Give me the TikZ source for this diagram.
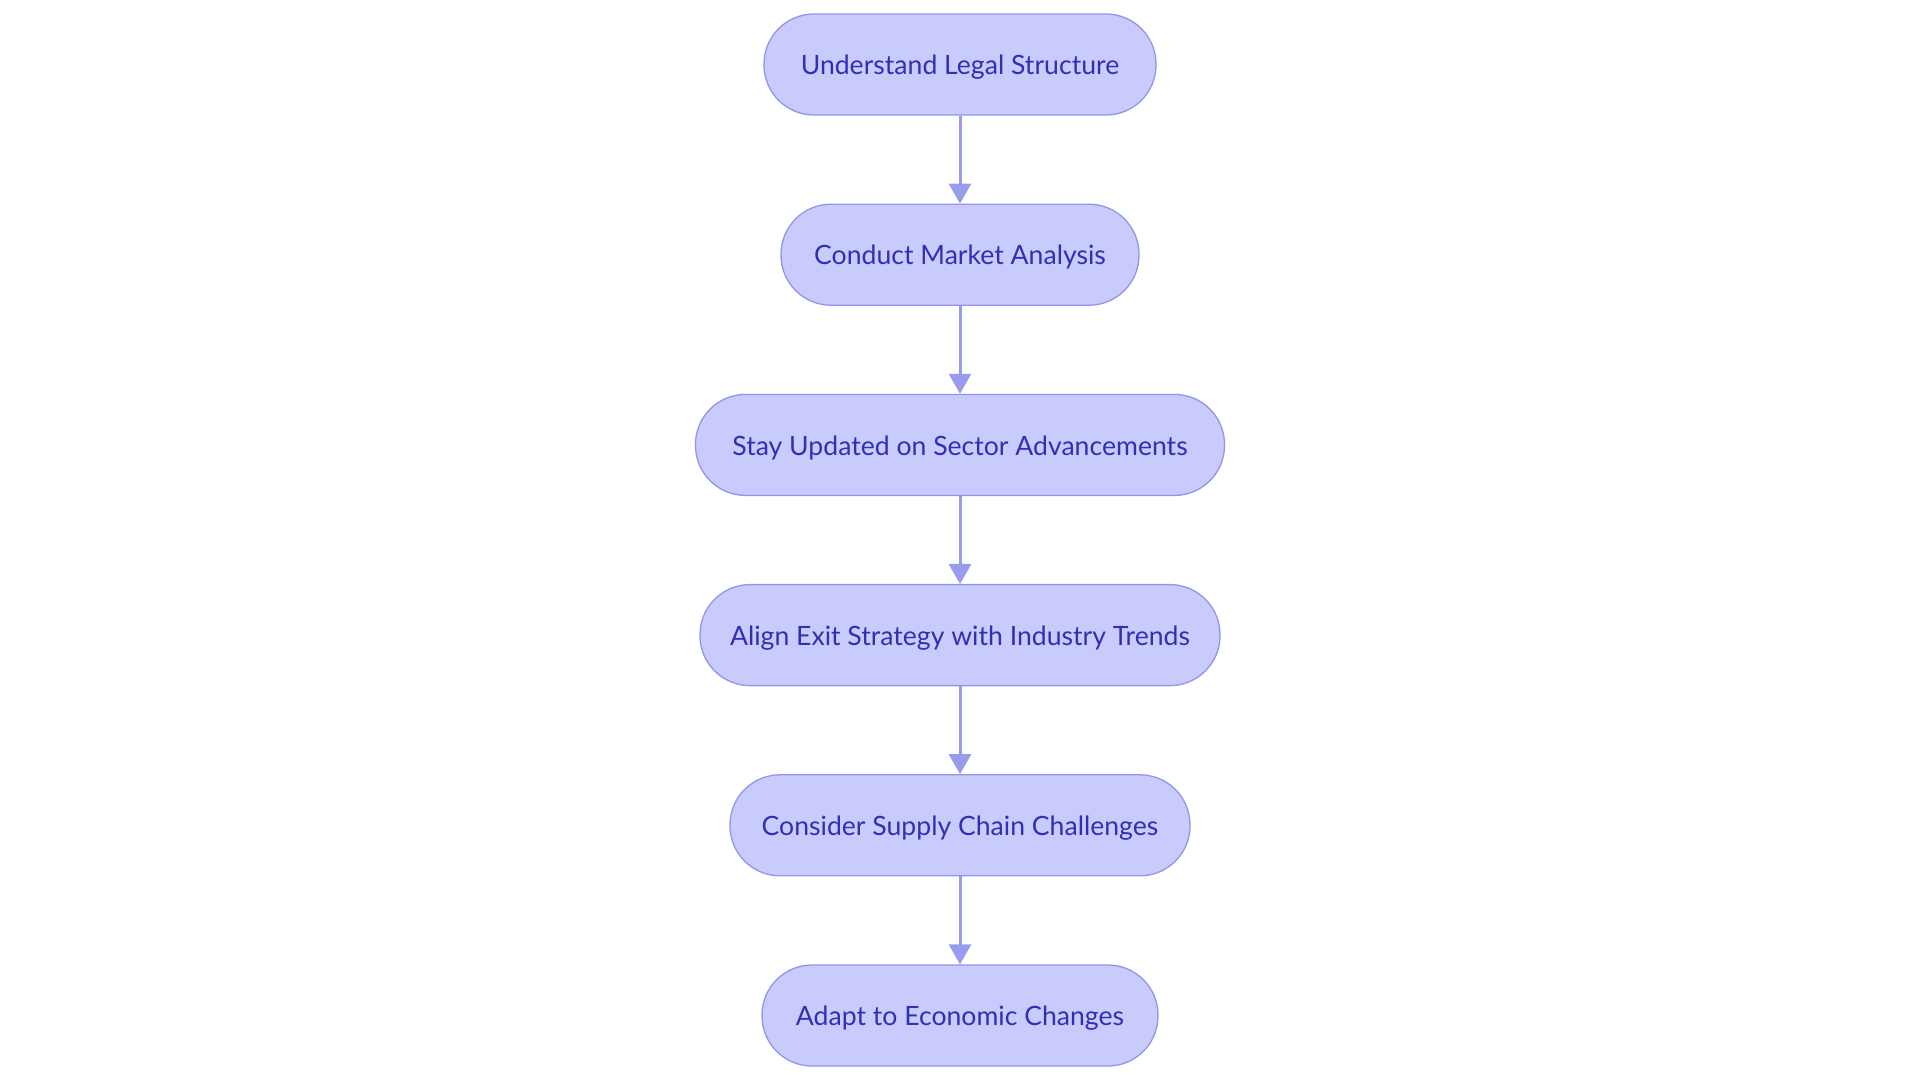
\documentclass[tikz,border=0pt]{standalone}
\usepackage{fontspec}
\setmainfont{Lato}
\usetikzlibrary{arrows.meta}
\definecolor{boxfill}{RGB}{201,203,252}
\definecolor{boxdraw}{RGB}{147,150,230}
\definecolor{boxtext}{RGB}{48,48,180}
\definecolor{arrowcol}{RGB}{152,156,236}
\tikzset{
  stepbox/.style={draw=boxdraw, fill=boxfill, line width=1.3pt, rounded corners=50pt,
    minimum height=101pt, inner sep=0pt, text height=20.5pt, text depth=0pt,
    text=boxtext, font=\fontsize{26.6pt}{30pt}\selectfont},
  flow/.style={draw=arrowcol, line width=3pt, -{Triangle[length=20pt,width=22pt]}}
}
\begin{document}
\begin{tikzpicture}[x=1pt,y=1pt]
\useasboundingbox[fill=white] (0,0) rectangle (1920,-1080);
\node[stepbox, minimum width=392pt] (n1) at (960,-64.5) {Understand Legal Structure};
\node[stepbox, minimum width=358pt] (n2) at (960,-254.7) {Conduct Market Analysis};
\node[stepbox, minimum width=529pt] (n3) at (960,-444.9) {Stay Updated on Sector Advancements};
\node[stepbox, minimum width=520pt] (n4) at (960,-635.1) {Align Exit Strategy with Industry Trends};
\node[stepbox, minimum width=460pt] (n5) at (960,-825.3) {Consider Supply Chain Challenges};
\node[stepbox, minimum width=396pt] (n6) at (960,-1015.5) {Adapt to Economic Changes};
\draw[flow] (n1) -- (n2);
\draw[flow] (n2) -- (n3);
\draw[flow] (n3) -- (n4);
\draw[flow] (n4) -- (n5);
\draw[flow] (n5) -- (n6);
\end{tikzpicture}
\end{document}
